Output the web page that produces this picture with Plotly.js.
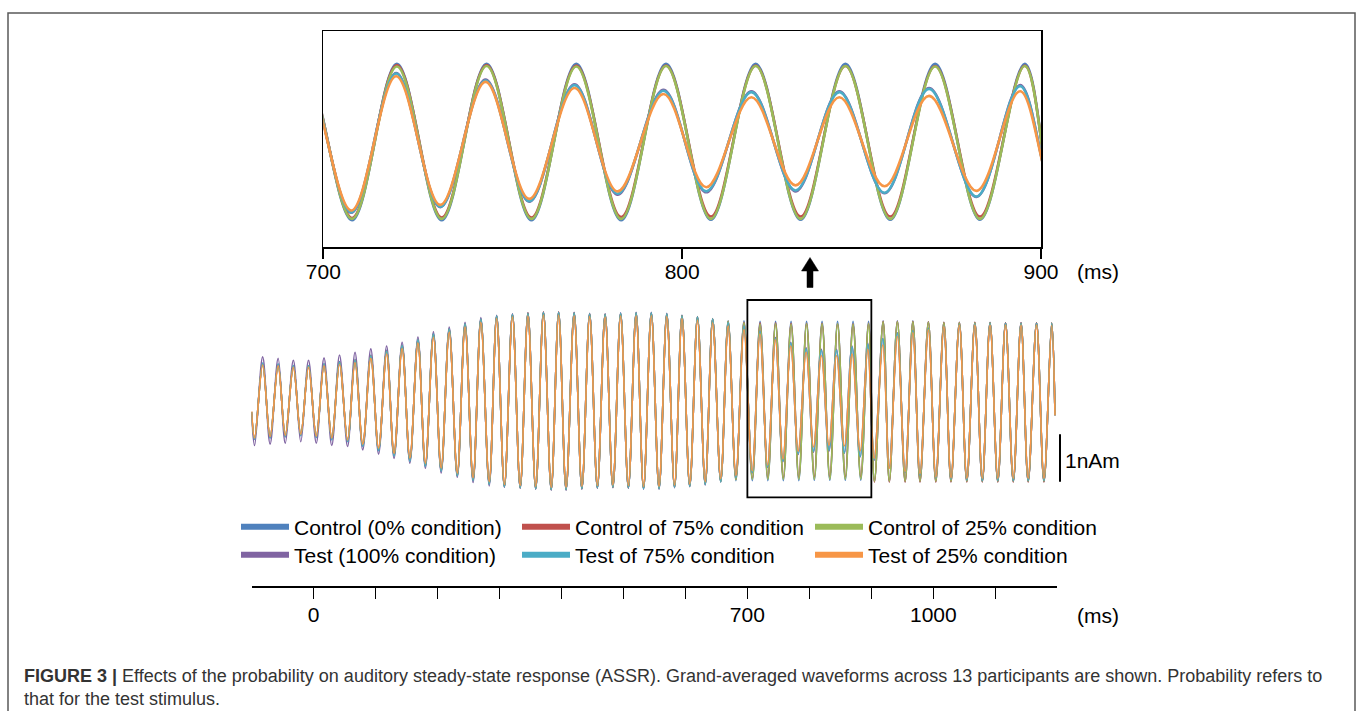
<!DOCTYPE html>
<html><head><meta charset="utf-8">
<script src="https://cdn.plot.ly/plotly-3.0.1.min.js"></script>
<style>html,body{margin:0;padding:0;background:#fff;}#chart{width:1360px;height:711px;}</style>
</head><body><div id="chart"></div>
<script>
// ---- data (values in nAm, times in ms) ----
const seriesNames = ['Control (0% condition)', 'Test (100% condition)', 'Control of 75% condition', 'Test of 75% condition', 'Control of 25% condition', 'Test of 25% condition'];
const seriesColors = ['#4F81BD', '#8064A2', '#C0504D', '#4BACC6', '#9BBB59', '#F79646'];

const startTime = -100;
const endTime = 1196.3;

const ctrlPeakTimes = [-82, -57, -32.5, -8, 17, 42, 67, 92.5, 118, 143, 168.5, 193.5, 219, 244.5, 270, 295.5,
  321, 346, 371, 395.5, 420.5, 445.5, 470.5, 495.5, 520.5, 545, 570, 594.5, 619.5, 644, 669, 694.5,
  720.5, 745.5, 770.5, 795.5, 820.5, 845.5, 870.5, 895.5,
  919, 942, 967, 992, 1017, 1042, 1067, 1091.5, 1116.5, 1141.5, 1166.5, 1191];
const ctrlTroughTimes = [-95, -70, -45.5, -20.5, 4.5, 29.5, 55, 79.5, 105, 130, 155.5, 180.5, 206, 232, 257.5, 283.5,
  308, 333.5, 358.5, 383.5, 407.5, 433, 458, 483, 508, 532.5, 557.5, 582.5, 607, 632, 657, 681.5,
  708, 733, 758, 783, 808, 833, 858, 883,
  905, 929, 954.5, 978.5, 1004, 1028.5, 1054, 1079, 1104, 1129, 1153, 1178.5];
const testPeakTimes = [-82, -57, -32.5, -8, 17, 42, 67, 92.5, 118, 143, 168.5, 193.5, 219, 244.5, 270, 295.5,
  321, 346, 371, 395.5, 420.5, 445.5, 470.5, 495.5, 520.5, 545, 570, 594.5, 619.5, 644, 669, 694.5,
  720.3, 745.2, 770.0, 794.8, 819.3, 843.8, 868.8, 894.2,
  918.5, 942, 967, 992, 1017, 1042, 1067, 1091.5, 1116.5, 1141.5, 1166.5, 1191];
const testTroughTimes = [-95, -70, -45.5, -20.5, 4.5, 29.5, 55, 79.5, 105, 130, 155.5, 180.5, 206, 232, 257.5, 283.5,
  308, 333.5, 358.5, 383.5, 407.5, 433, 458, 483, 508, 532.5, 557.5, 582.5, 607, 632, 657, 681.5,
  707.8, 732.6, 757.4, 782.0, 806.7, 831.6, 856.4, 882.0,
  904.5, 929, 954.5, 978.5, 1004, 1028.5, 1054, 1079, 1104, 1129, 1153, 1178.5];

// Control (0% condition) - blue
const bluePeaks = [0.80, 0.78, 0.75, 0.75, 0.79, 0.83, 0.88, 0.97, 1.07, 1.18, 1.30, 1.42, 1.53, 1.64, 1.74, 1.80,
  1.83, 1.85, 1.87, 1.87, 1.86, 1.84, 1.83, 1.85, 1.86, 1.86, 1.84, 1.81, 1.78, 1.74, 1.69, 1.69,
  1.68, 1.68, 1.68, 1.68, 1.68, 1.68, 1.68, 1.68,
  1.69, 1.69, 1.69, 1.67, 1.66, 1.66, 1.66, 1.66, 1.65, 1.65, 1.65, 1.64];
const blueTroughs = [-0.81, -0.78, -0.76, -0.73, -0.77, -0.81, -0.85, -0.95, -1.04, -1.15, -1.26, -1.37, -1.48, -1.58, -1.68, -1.76,
  -1.81, -1.83, -1.85, -1.87, -1.87, -1.85, -1.83, -1.82, -1.83, -1.85, -1.85, -1.82, -1.80, -1.76, -1.71, -1.68,
  -1.68, -1.68, -1.68, -1.68, -1.67, -1.67, -1.67, -1.67,
  -1.70, -1.70, -1.70, -1.70, -1.70, -1.70, -1.70, -1.70, -1.70, -1.70, -1.70, -1.70];

// Test (100% condition) - purple
const purplePeaks = [0.93, 0.90, 0.86, 0.86, 0.91, 0.97, 1.03, 1.10, 1.16, 1.24, 1.35, 1.46, 1.56, 1.66, 1.76, 1.81,
  1.84, 1.86, 1.87, 1.87, 1.87, 1.85, 1.84, 1.86, 1.87, 1.87, 1.85, 1.81, 1.77, 1.73, 1.65, 1.58,
  1.48, 1.34, 1.24, 1.12, 1.09, 1.09, 1.16, 1.22,
  1.32, 1.44, 1.49, 1.54, 1.59, 1.63, 1.64, 1.65, 1.65, 1.65, 1.65, 1.64];
const purpleTroughs = [-0.94, -0.91, -0.89, -0.86, -0.89, -0.94, -0.96, -1.03, -1.12, -1.21, -1.31, -1.42, -1.52, -1.61, -1.72, -1.79,
  -1.82, -1.84, -1.86, -1.88, -1.88, -1.86, -1.84, -1.83, -1.84, -1.86, -1.86, -1.83, -1.81, -1.77, -1.70, -1.62,
  -1.52, -1.40, -1.28, -1.13, -1.08, -1.06, -1.10, -1.18,
  -1.25, -1.41, -1.51, -1.57, -1.63, -1.66, -1.68, -1.69, -1.69, -1.69, -1.69, -1.69];

// Control of 75% condition - red
const redPeaks = [0.78, 0.76, 0.73, 0.73, 0.77, 0.81, 0.86, 0.95, 1.05, 1.16, 1.28, 1.40, 1.51, 1.62, 1.72, 1.79,
  1.83, 1.86, 1.88, 1.88, 1.86, 1.84, 1.83, 1.84, 1.85, 1.85, 1.83, 1.80, 1.77, 1.73, 1.68, 1.66,
  1.65, 1.65, 1.64, 1.64, 1.64, 1.63, 1.63, 1.64,
  1.68, 1.68, 1.68, 1.67, 1.66, 1.66, 1.66, 1.65, 1.65, 1.65, 1.65, 1.65];
const redTroughs = [-0.79, -0.76, -0.74, -0.71, -0.75, -0.79, -0.83, -0.93, -1.02, -1.13, -1.24, -1.35, -1.46, -1.56, -1.66, -1.74,
  -1.80, -1.83, -1.85, -1.87, -1.87, -1.85, -1.83, -1.82, -1.83, -1.84, -1.84, -1.81, -1.79, -1.75, -1.69, -1.65,
  -1.63, -1.62, -1.62, -1.61, -1.60, -1.60, -1.60, -1.60,
  -1.71, -1.71, -1.71, -1.71, -1.71, -1.71, -1.71, -1.71, -1.71, -1.71, -1.71, -1.71];

// Test of 75% condition - cyan
const cyanPeaks = [0.80, 0.78, 0.75, 0.75, 0.78, 0.81, 0.86, 0.95, 1.05, 1.17, 1.29, 1.41, 1.52, 1.63, 1.73, 1.80,
  1.83, 1.85, 1.87, 1.87, 1.86, 1.84, 1.83, 1.85, 1.86, 1.86, 1.84, 1.80, 1.77, 1.73, 1.66, 1.58,
  1.47, 1.32, 1.22, 1.10, 1.07, 1.07, 1.14, 1.20,
  1.31, 1.43, 1.48, 1.53, 1.58, 1.62, 1.63, 1.64, 1.64, 1.64, 1.64, 1.64];
const cyanTroughs = [-0.81, -0.78, -0.75, -0.73, -0.77, -0.82, -0.86, -0.96, -1.05, -1.16, -1.27, -1.38, -1.48, -1.58, -1.68, -1.76,
  -1.81, -1.83, -1.85, -1.87, -1.87, -1.85, -1.83, -1.82, -1.83, -1.85, -1.85, -1.82, -1.80, -1.76, -1.70, -1.62,
  -1.51, -1.39, -1.27, -1.11, -1.06, -1.04, -1.09, -1.17,
  -1.24, -1.40, -1.50, -1.56, -1.62, -1.65, -1.67, -1.68, -1.68, -1.68, -1.68, -1.68];

// Control of 25% condition - green
const greenPeaks = [0.78, 0.76, 0.73, 0.74, 0.77, 0.81, 0.86, 0.95, 1.05, 1.16, 1.28, 1.40, 1.51, 1.62, 1.72, 1.78,
  1.82, 1.84, 1.86, 1.86, 1.85, 1.83, 1.82, 1.84, 1.85, 1.85, 1.83, 1.80, 1.77, 1.73, 1.68, 1.65,
  1.62, 1.63, 1.62, 1.63, 1.63, 1.63, 1.62, 1.63,
  1.67, 1.67, 1.67, 1.66, 1.65, 1.65, 1.65, 1.65, 1.64, 1.64, 1.64, 1.64];
const greenTroughs = [-0.79, -0.76, -0.73, -0.71, -0.75, -0.79, -0.83, -0.93, -1.02, -1.13, -1.24, -1.35, -1.46, -1.56, -1.66, -1.74,
  -1.80, -1.82, -1.84, -1.86, -1.86, -1.84, -1.82, -1.81, -1.82, -1.84, -1.84, -1.81, -1.79, -1.75, -1.70, -1.66,
  -1.65, -1.65, -1.65, -1.65, -1.65, -1.65, -1.65, -1.65,
  -1.69, -1.69, -1.69, -1.69, -1.69, -1.69, -1.69, -1.69, -1.69, -1.69, -1.69, -1.69];

// Test of 25% condition - orange
const orangePeaks = [0.76, 0.74, 0.71, 0.71, 0.74, 0.77, 0.81, 0.90, 0.99, 1.10, 1.22, 1.34, 1.45, 1.56, 1.66, 1.74,
  1.77, 1.79, 1.81, 1.81, 1.80, 1.78, 1.77, 1.79, 1.80, 1.80, 1.78, 1.74, 1.70, 1.65, 1.58, 1.50,
  1.41, 1.29, 1.16, 1.03, 0.96, 0.96, 0.99, 1.09,
  1.18, 1.36, 1.44, 1.50, 1.57, 1.60, 1.60, 1.60, 1.60, 1.60, 1.60, 1.59];
const orangeTroughs = [-0.78, -0.75, -0.72, -0.70, -0.74, -0.78, -0.82, -0.91, -0.99, -1.10, -1.20, -1.31, -1.41, -1.52, -1.62, -1.70,
  -1.76, -1.78, -1.80, -1.82, -1.82, -1.80, -1.78, -1.77, -1.78, -1.80, -1.80, -1.77, -1.75, -1.70, -1.64, -1.57,
  -1.47, -1.35, -1.22, -1.06, -0.97, -0.93, -0.95, -1.05,
  -1.21, -1.42, -1.49, -1.53, -1.60, -1.62, -1.63, -1.63, -1.63, -1.63, -1.63, -1.63];

// values at the first and last sample, same order as seriesNames
const startValues = [-0.24, -0.27, -0.23, -0.24, -0.23, -0.22];
const endValues = [-0.30, -0.30, -0.30, -0.30, -0.30, -0.30];

const bottomTickVals = [0, 100, 200, 300, 400, 500, 600, 700, 800, 900, 1000, 1100];
const bottomTickText = ['0', '', '', '', '', '', '', '700', '', '', '1000', ''];
const topTickVals = [700, 800, 900];

// ---- build ----
const W = 1360, H = 711;
const px = v => v / W;
const py = v => 1 - v / H;

function buildWave(peakT, troughT, peaks, troughs, v0, v1) {
  const x = [startTime], y = [v0];
  for (let i = 0; i < peaks.length; i++) {
    x.push(troughT[i], peakT[i]);
    y.push(troughs[i], peaks[i]);
  }
  x.push(endTime); y.push(v1);
  return { x, y };
}

const waves = [
  buildWave(ctrlPeakTimes, ctrlTroughTimes, bluePeaks, blueTroughs, startValues[0], endValues[0]),
  buildWave(testPeakTimes, testTroughTimes, purplePeaks, purpleTroughs, startValues[1], endValues[1]),
  buildWave(ctrlPeakTimes, ctrlTroughTimes, redPeaks, redTroughs, startValues[2], endValues[2]),
  buildWave(testPeakTimes, testTroughTimes, cyanPeaks, cyanTroughs, startValues[3], endValues[3]),
  buildWave(ctrlPeakTimes, ctrlTroughTimes, greenPeaks, greenTroughs, startValues[4], endValues[4]),
  buildWave(testPeakTimes, testTroughTimes, orangePeaks, orangeTroughs, startValues[5], endValues[5])
];
// drawing order (bottom to top)
const drawOrder = [0, 1, 2, 4, 3, 5];

const traces = [];
drawOrder.forEach(i => {
  traces.push({ type: 'scatter', mode: 'lines', x: waves[i].x, y: waves[i].y, xaxis: 'x', yaxis: 'y',
    line: { color: seriesColors[i], width: 2.6, shape: 'spline', smoothing: 1 }, showlegend: false, hoverinfo: 'skip' });
});
drawOrder.forEach(i => {
  traces.push({ type: 'scatter', mode: 'lines', x: waves[i].x, y: waves[i].y, xaxis: 'x2', yaxis: 'y2',
    line: { color: seriesColors[i], width: 1.6, shape: 'spline', smoothing: 1 }, showlegend: false, hoverinfo: 'skip' });
});
// legend entries: one small legend per entry so rows/columns sit where the reference has them
const legendIds = ['legend', 'legend2', 'legend3', 'legend4', 'legend5', 'legend6'];
for (let i = 0; i < 6; i++) {
  traces.push({ type: 'scatter', mode: 'lines', x: [null], y: [null], xaxis: 'x2', yaxis: 'y2',
    name: seriesNames[i], legend: legendIds[i], line: { color: seriesColors[i], width: 6 }, showlegend: true });
}

const legendCommon = { orientation: 'v', xanchor: 'left', yanchor: 'middle', bgcolor: 'rgba(0,0,0,0)',
  borderwidth: 0, font: { size: 21, color: '#000' }, itemwidth: 48, tracegroupgap: 0 };
const legendX = [236, 236, 517, 517, 810, 810];
const legendY = [527, 555, 527, 555, 527, 555];

const arrowPts = [[810, 257.5], [818.5, 271], [813, 271], [813, 287.5], [807, 287.5], [807, 271], [801.5, 271]];
const arrowPath = 'M' + arrowPts.map(p => px(p[0]) + ',' + py(p[1])).join(' L') + ' Z';

const layout = {
  width: W, height: H,
  margin: { l: 0, r: 0, t: 0, b: 0 },
  paper_bgcolor: '#ffffff', plot_bgcolor: 'rgba(0,0,0,0)',
  font: { family: 'Liberation Sans, Arial, sans-serif', size: 21, color: '#000' },
  showlegend: true,
  xaxis: { domain: [px(323.3), px(1041)], range: [700, 900], anchor: 'y', tickvals: topTickVals,
    ticks: 'outside', ticklen: 10, tickwidth: 1.6, tickcolor: '#000', showline: true, mirror: true,
    linecolor: '#000', linewidth: 1.8, showgrid: false, zeroline: false, tickfont: { size: 21 },
    ticklabelstandoff: -5, fixedrange: true },
  yaxis: { domain: [py(247.3), py(31.3)], range: [-2.26, 2.376], anchor: 'x', showline: true, mirror: true,
    linecolor: '#000', linewidth: 1.8, ticks: '', showticklabels: false, showgrid: false, zeroline: false, fixedrange: true },
  xaxis2: { domain: [px(251.5), px(1057.3)], range: [-100, 1200], anchor: 'free', position: py(586),
    tickvals: bottomTickVals, ticktext: bottomTickText, ticks: 'outside', ticklen: 11, tickwidth: 1.6,
    tickcolor: '#000', showline: true, linecolor: '#000', linewidth: 1.6, showgrid: false, zeroline: false,
    tickfont: { size: 21 }, ticklabelstandoff: -2, fixedrange: true },
  yaxis2: { domain: [py(500), py(300)], range: [-99 / 47.4, 101 / 47.4], anchor: 'x2', visible: false, fixedrange: true },
  shapes: [
    { type: 'rect', xref: 'paper', yref: 'paper', x0: px(8), x1: px(1355), y0: py(725), y1: py(13),
      line: { color: '#5a5a5a', width: 1.5 }, fillcolor: 'rgba(0,0,0,0)', layer: 'below' },
    { type: 'rect', xref: 'x2', yref: 'paper', x0: 700, x1: 900, y0: py(497.3), y1: py(300),
      line: { color: '#000', width: 1.8 }, fillcolor: 'rgba(0,0,0,0)' },
    { type: 'line', xref: 'paper', yref: 'y2', x0: px(1060), x1: px(1060), y0: -1.7025, y1: -0.7025,
      line: { color: '#000', width: 2 } },
    { type: 'path', xref: 'paper', yref: 'paper', path: arrowPath, fillcolor: '#000', line: { color: '#000', width: 0.5 } }
  ],
  annotations: [
    { text: '(ms)', xref: 'paper', yref: 'paper', x: px(1098), y: py(272), xanchor: 'center', yanchor: 'middle', showarrow: false, font: { size: 21 } },
    { text: '(ms)', xref: 'paper', yref: 'paper', x: px(1098), y: py(615), xanchor: 'center', yanchor: 'middle', showarrow: false, font: { size: 21 } },
    { text: '1nAm', xref: 'paper', yref: 'paper', x: px(1063), y: py(460), xanchor: 'left', yanchor: 'middle', showarrow: false, font: { size: 21 } },
    { text: '<b>FIGURE 3 |</b> Effects of the probability on auditory steady-state response (ASSR). Grand-averaged waveforms across 13 participants are shown. Probability refers to',
      xref: 'paper', yref: 'paper', x: px(22), y: py(676), xanchor: 'left', yanchor: 'middle', showarrow: false,
      font: { size: 18, color: '#333333' } },
    { text: 'that for the test stimulus.', xref: 'paper', yref: 'paper', x: px(22), y: py(699), xanchor: 'left', yanchor: 'middle', showarrow: false,
      font: { size: 18, color: '#333333' } }
  ]
};
legendIds.forEach((id, i) => {
  layout[id] = Object.assign({}, legendCommon, { x: px(legendX[i]), y: py(legendY[i]) });
});

Plotly.newPlot('chart', traces, layout, { displayModeBar: false, staticPlot: true });
</script>
</body></html>
